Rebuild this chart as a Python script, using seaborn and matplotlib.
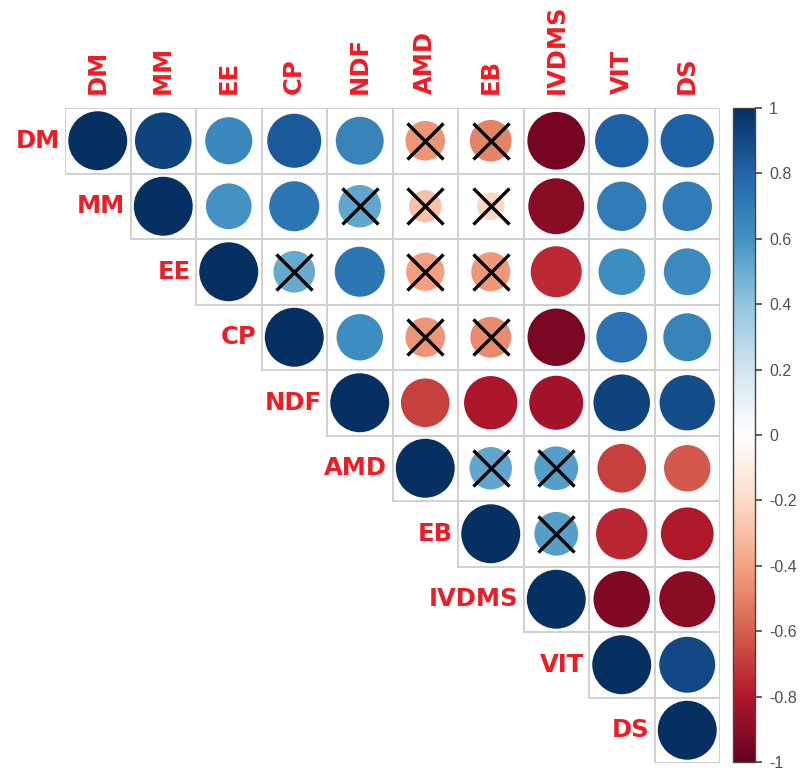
import numpy as np
import pandas as pd
import matplotlib
matplotlib.use("Agg")
import matplotlib.pyplot as plt
from matplotlib.colors import LinearSegmentedColormap, Normalize
from matplotlib.patches import Rectangle
import seaborn as sns

# ---------------- data ----------------
variables = ["DM", "MM", "EE", "CP", "NDF", "AMD", "EB", "IVDMS", "VIT", "DS"]

# upper-triangle rows (diagonal first)
r_DM = [1, 0.92, 0.64, 0.84, 0.66, -0.45, -0.50, -0.96, 0.82, 0.82]
r_MM = [1, 0.60, 0.72, 0.52, -0.30, -0.22, -0.90, 0.70, 0.70]
r_EE = [1, 0.50, 0.72, -0.42, -0.44, -0.75, 0.62, 0.63]
r_CP = [1, 0.62, -0.45, -0.48, -0.95, 0.74, 0.66]
r_NDF = [1, -0.68, -0.82, -0.84, 0.92, 0.88]
r_AMD = [1, 0.52, 0.55, -0.68, -0.62]
r_EB = [1, 0.55, -0.76, -0.80]
r_IVDMS = [1, -0.92, -0.90]
r_VIT = [1, 0.90]
r_DS = [1]
rows = [r_DM, r_MM, r_EE, r_CP, r_NDF, r_AMD, r_EB, r_IVDMS, r_VIT, r_DS]

# non-significant pairs (crossed)
nonsig = [("DM", "AMD"), ("DM", "EB"), ("MM", "NDF"), ("MM", "AMD"), ("MM", "EB"),
          ("EE", "CP"), ("EE", "AMD"), ("EE", "EB"), ("CP", "AMD"), ("CP", "EB"),
          ("AMD", "EB"), ("AMD", "IVDMS"), ("EB", "IVDMS")]

cbar_ticks = [-1, -0.8, -0.6, -0.4, -0.2, 0, 0.2, 0.4, 0.6, 0.8, 1]
cbar_labels = ["-1", "-0.8", "-0.6", "-0.4", "-0.2", "0", "0.2", "0.4", "0.6", "0.8", "1"]

# ---------------- build table ----------------
recs = []
for i, row in enumerate(rows):
    for k, v in enumerate(row):
        j = i + k
        recs.append({"row": variables[i], "col": variables[j], "x": j, "y": i,
                     "r": v, "absr": abs(v),
                     "nonsig": (variables[i], variables[j]) in nonsig})
df = pd.DataFrame(recs)

cmap = LinearSegmentedColormap.from_list(
    "corrRdBu", ["#67001F", "#B2182B", "#D6604D", "#F4A582", "#FDDBC7", "#FFFFFF",
                 "#D1E5F0", "#92C5DE", "#4393C3", "#2166AC", "#053061"], N=200)
norm = Normalize(-1, 1)

W, H = 806, 772
fig = plt.figure(figsize=(W / 100, H / 100), dpi=100)
sns.set_style("white")
plt.rcParams["font.family"] = ["DejaVu Sans"]

n = len(variables)
ax_l, ax_r, ax_t, ax_b = 65, 720, 108, 763
ax = fig.add_axes([ax_l / W, 1 - ax_b / H, (ax_r - ax_l) / W, (ax_b - ax_t) / H])
ax.set_xlim(-0.5, n - 0.5)
ax.set_ylim(n - 0.5, -0.5)

# cell borders
for _, rr in df.iterrows():
    ax.add_patch(Rectangle((rr.x - 0.5, rr.y - 0.5), 1, 1, fill=False,
                           edgecolor="#d0d0d0", lw=1.4, zorder=1))

cell_pt = (ax_r - ax_l) / n * 72 / 100
smax = (0.9 * cell_pt) ** 2
sns.scatterplot(data=df, x="x", y="y", hue="r", palette=cmap, hue_norm=norm,
                size="absr", sizes=(0, smax), size_norm=(0, 1),
                linewidth=0, legend=False, ax=ax, zorder=2)

ns = df[df["nonsig"]]
ax.scatter(ns["x"], ns["y"], marker="x", s=(0.55 * cell_pt) ** 2,
           color="black", linewidths=2.4, zorder=3)

red = "#EE1C25"
fs = 17.5
ax.xaxis.tick_top()
ax.set_xticks(range(n))
ax.set_xticklabels(variables, rotation=90, color=red, fontsize=fs,
                   fontweight="bold")
ax.tick_params(axis="x", length=0, pad=10)
ax.set_yticks([])
ax.set_xlabel("")
ax.set_ylabel("")
for i, v in enumerate(variables):
    ax.text(i - 0.58, i, v, ha="right", va="center", color=red, fontsize=fs,
            fontweight="bold")
for s in ax.spines.values():
    s.set_visible(False)

# colorbar
cb_top, cb_bot = 108, 762
cax = fig.add_axes([733 / W, 1 - cb_bot / H, 22 / W, (cb_bot - cb_top) / H])
sm = matplotlib.cm.ScalarMappable(norm=norm, cmap=cmap)
cb = fig.colorbar(sm, cax=cax)
cb.set_ticks(cbar_ticks)
cb.set_ticklabels(cbar_labels)
cb.outline.set_edgecolor("#444444")
cb.outline.set_linewidth(1.0)
cax.tick_params(length=5, width=1.2, color="#444444", labelsize=11.5,
                labelcolor="#505050", pad=5)
for t in cax.get_yticklabels():
    t.set_fontfamily("Liberation Sans")

fig.savefig("out.png", dpi=100)
